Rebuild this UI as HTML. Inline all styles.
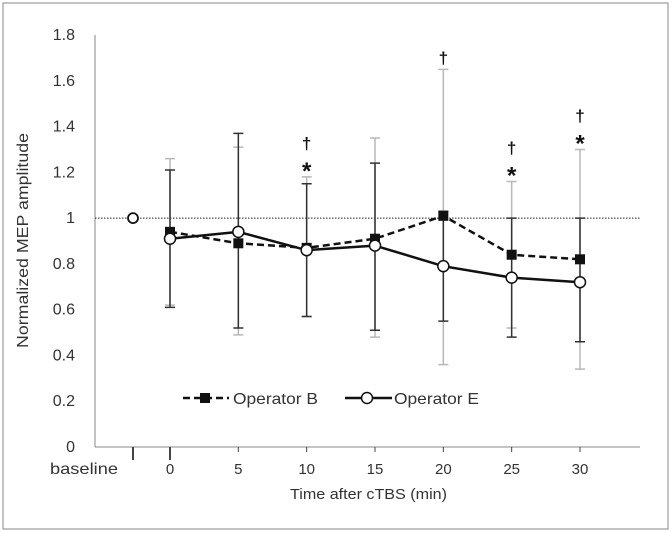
<!DOCTYPE html>
<html><head><meta charset="utf-8"><style>
body{margin:0;background:#fff}
svg{display:block;font-family:"Liberation Sans",sans-serif}
</style></head><body>
<svg id="chart" width="672" height="533">
<rect x="3" y="3" width="665" height="526" fill="#fff" stroke="#888" stroke-width="1"/>
<g id="g"></g>
</svg>
<script>
const xCats=[0,5,10,15,20,25,30];
const xTickLabels=["0","5","10","15","20","25","30"];
const yTicks=[0,0.2,0.4,0.6,0.8,1,1.2,1.4,1.6,1.8];
const yTickLabels=["0","0.2","0.4","0.6","0.8","1","1.2","1.4","1.6","1.8"];
const bMean=[0.94,0.89,0.87,0.91,1.01,0.84,0.82];
const bHi=[1.26,1.31,1.18,1.35,1.65,1.16,1.30];
const bLo=[0.62,0.49,0.57,0.48,0.36,0.52,0.34];
const eMean=[0.91,0.94,0.86,0.88,0.79,0.74,0.72];
const eHi=[1.21,1.37,1.15,1.24,1.03,1.00,1.00];
const eLo=[0.61,0.52,0.57,0.51,0.55,0.48,0.46];
const baselineValue=1;
const marks=[[],[],["†","*"],[],["†"],["†","*"],["†","*"]];
const NS="http://www.w3.org/2000/svg";
const g=document.getElementById('g');
function X(t){return 170+t*(580-170)/30;}
function Y(v){return 447-v*(447-35)/1.8;}
function el(tag,at,txt){const e=document.createElementNS(NS,tag);for(const k in at)e.setAttribute(k,at[k]);if(txt!==undefined)e.textContent=txt;g.appendChild(e);return e;}
let e;
e=el('line',{x1:95,y1:35,x2:95,y2:447,stroke:'#888'});


e=el('line',{x1:95,y1:447,x2:640,y2:447,stroke:'#888'});


e=el('line',{x1:95,y1:Y(baselineValue),x2:641,y2:Y(baselineValue),stroke:'#222','stroke-dasharray':'1.5,1.5'});


yTicks.forEach((v,i)=>{
  e=el('text',{x:75,y:Y(v)+5,'text-anchor':'end','font-size':16,fill:'#333'},yTickLabels[i]);
  
  
});
xCats.forEach((t,i)=>{
  e=el('line',{x1:X(t),y1:447,x2:X(t),y2:i==0?460:452,stroke:'#444','stroke-width':i==0?2:1});
  
  
  e=el('text',{x:X(t),y:474,'text-anchor':'middle','font-size':15,fill:'#333'},xTickLabels[i]);
  
  
});
e=el('line',{x1:133,y1:447,x2:133,y2:460,stroke:'#444','stroke-width':2});


e=el('text',{x:50,y:474,'font-size':16,fill:'#333',textLength:68,lengthAdjust:'spacingAndGlyphs'},'baseline');


e=el('text',{x:290,y:499,'font-size':15,fill:'#333',textLength:157,lengthAdjust:'spacingAndGlyphs'},'Time after cTBS (min)');


e=el('text',{x:-107,y:0,'font-size':16,fill:'#333',transform:'translate(28,241) rotate(-90)',textLength:215,lengthAdjust:'spacingAndGlyphs'},'Normalized MEP amplitude');


function errs(hi,lo,col,name){
  xCats.forEach((t,i)=>{
    const x=X(t);
    e=el('path',{d:`M${x},${Y(hi[i])}V${Y(lo[i])}M${x-5},${Y(hi[i])}h10M${x-5},${Y(lo[i])}h10`,stroke:col,'stroke-width':1.5,fill:'none'});
    
    
  });
}
errs(bHi,bLo,'#b8b8b8','error-bar-b');
errs(eHi,eLo,'#333','error-bar-e');
e=el('path',{d:xCats.map((t,i)=>(i?'L':'M')+X(t)+','+Y(bMean[i])).join(''),stroke:'#111','stroke-width':2.5,fill:'none','stroke-dasharray':'7,4'});


e=el('path',{d:xCats.map((t,i)=>(i?'L':'M')+X(t)+','+Y(eMean[i])).join(''),stroke:'#111','stroke-width':2.5,fill:'none'});


xCats.forEach((t,i)=>{
  e=el('rect',{x:X(t)-5,y:Y(bMean[i])-5,width:10,height:10,fill:'#111'});
  
  
});
xCats.forEach((t,i)=>{
  e=el('circle',{cx:X(t),cy:Y(eMean[i]),r:5.5,fill:'#fff',stroke:'#111','stroke-width':1.5});
  
  
});
e=el('circle',{cx:133,cy:Y(baselineValue),r:5,fill:'#fff',stroke:'#111','stroke-width':1.8});


xCats.forEach((t,i)=>{
  const top=Math.max(bHi[i],eHi[i]);
  const m=marks[i];
  m.slice().reverse().forEach((s,j)=>{
    const yy=s=='*'?Y(top)+2:Y(top)-6-j*22;
    e=el('text',{x:X(t),y:yy,'text-anchor':'middle','font-size':s=='*'?24:17,'font-weight':'bold',fill:'#111'},s);
    
    
  });
});
// legend
e=el('line',{x1:183,y1:398,x2:229,y2:398,stroke:'#111','stroke-width':2.5,'stroke-dasharray':'7,4'});


e=el('rect',{x:200,y:393,width:10,height:10,fill:'#111'});


e=el('text',{x:233,y:404,'font-size':16,fill:'#333',textLength:85,lengthAdjust:'spacingAndGlyphs'},'Operator B');


e=el('line',{x1:345,y1:398,x2:392,y2:398,stroke:'#111','stroke-width':2.5});


e=el('circle',{cx:367,cy:398,r:5.5,fill:'#fff',stroke:'#111','stroke-width':1.5});


e=el('text',{x:394,y:404,'font-size':16,fill:'#333',textLength:85,lengthAdjust:'spacingAndGlyphs'},'Operator E');


</script>
</body></html>
